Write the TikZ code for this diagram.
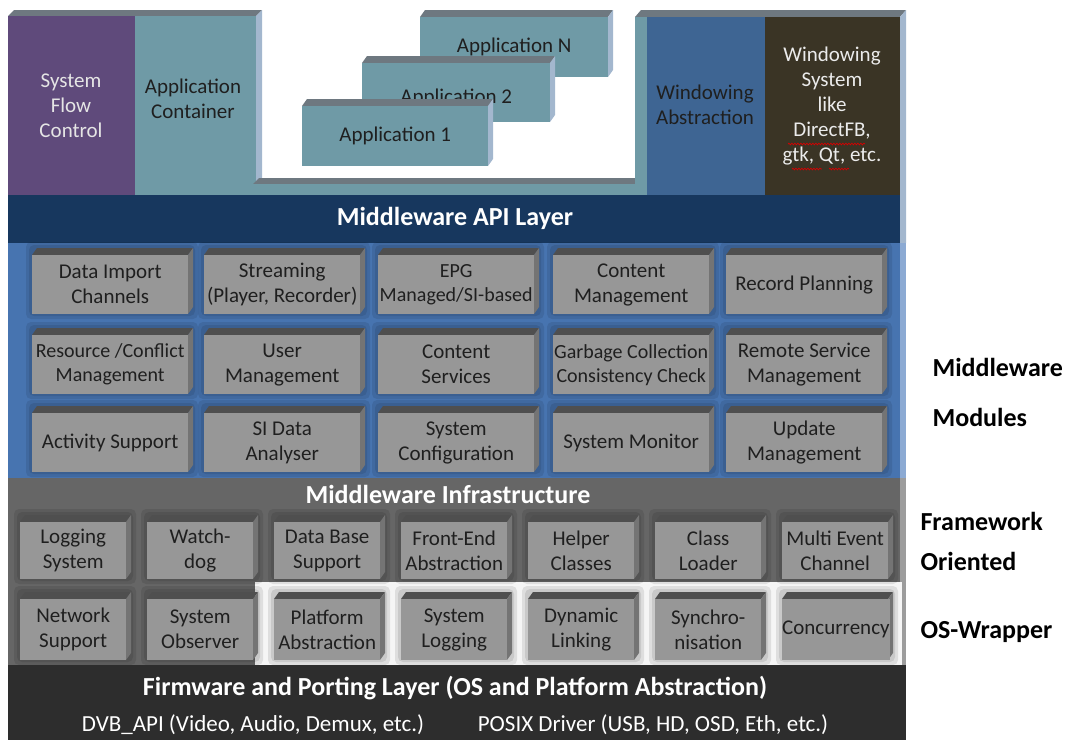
\documentclass[tikz,border=0pt]{standalone}
\usepackage{fontspec}
\setmainfont{Carlito}
\usetikzlibrary{decorations.pathmorphing}

\definecolor{flowpurple}{HTML}{5F4A7B}
\definecolor{appteal}{HTML}{6F9AA6}
\definecolor{winblue}{HTML}{3E6593}
\definecolor{winbrown}{HTML}{3A3425}
\definecolor{apinavy}{HTML}{17375E}
\definecolor{modblue}{HTML}{4774B0}
\definecolor{modside}{HTML}{8CAAD3}
\definecolor{infragray}{HTML}{666666}
\definecolor{infraside}{HTML}{9C9C9C}
\definecolor{fwdark}{HTML}{2D2D2D}
\definecolor{boxface}{HTML}{979797}
\definecolor{boxtop}{HTML}{4F4F4F}
\definecolor{boxside}{HTML}{747474}
\definecolor{slabtop}{HTML}{6E7880}
\definecolor{slabside}{HTML}{A3B7CE}

\tikzset{
  modlabel/.style={align=center, text=black!88, font=\fontsize{21}{25}\selectfont},
  smalllabel/.style={modlabel, font=\fontsize{20}{24}\selectfont},
  toplabel/.style={align=center, font=\fontsize{21}{25}\selectfont},
  layertitle/.style={text=white, font=\bfseries\fontsize{26}{30}\selectfont},
  sidelabel/.style={anchor=west, font=\bfseries\fontsize{26}{30}\selectfont},
  driverlabel/.style={text=white, font=\fontsize{23}{27}\selectfont},
  spell/.style={red!85!black, line width=0.7pt, decorate,
    decoration={snake, segment length=3pt, amplitude=0.8pt}},
  halo/.style={black, opacity=0.09, rounded corners=5pt},
}

% extruded box: style, top colour, side colour, name, x, y, w, h, text
\newcommand{\threed}[9]{%
  \fill[#2] (#5,#6) -- ++(5,-7) -- ++(#7,0) -- ++(-5,7) -- cycle;
  \fill[#3] (#5+#7,#6) -- ++(5,-7) -- ++(0,#8) -- ++(-5,7) -- cycle;
  \node[#1, minimum width=#7, minimum height=#8, inner sep=0pt, anchor=north west] (#4) at (#5,#6) {#9};
}
\newcommand{\modbox}[7][modlabel]{%
  \fill[halo] (#3-6,#4-13) rectangle (#3+#5+10,#4+#6+5);
  \fill[halo] (#3-3,#4-10) rectangle (#3+#5+7,#4+#6+2);
  \threed{#1, fill=boxface}{boxtop}{boxside}{#2}{#3}{#4}{#5}{#6}{#7}}
\newcommand{\appbox}[6]{\threed{toplabel, fill=appteal, text=black!88}{slabtop}{slabside}{#1}{#2}{#3}{#4}{#5}{#6}}

\begin{document}
\begin{tikzpicture}[x=1pt,y=-1pt]
\useasboundingbox (0,0) rectangle (1067,740);

% application layer
\fill[slabtop] (8,16) -- (14,10) -- (262,10) -- (256,16) -- cycle;
\fill[slabside] (256,16) -- (262,10) -- (262,178) -- (256,184) -- cycle;
\fill[flowpurple] (8,16) rectangle (135,195);
\fill[appteal] (135,16) rectangle (256,195);
\fill[slabtop] (253,184) -- (259,178) -- (641,178) -- (635,184) -- cycle;
\fill[appteal] (253,184) rectangle (647,195);
\fill[slabtop] (635,17) -- (641,10) -- (906,10) -- (900,17) -- cycle;
\fill[appteal] (635,17) rectangle (647,195);
\fill[winblue] (647,17) rectangle (765,195);
\fill[winbrown] (765,17) rectangle (900,195);
\fill[slabside] (900,17) -- (906,10) -- (906,243) -- (900,243) -- cycle;

\node[toplabel, text=white!90!black] (flow) at (71,106) {System\\Flow\\Control};
\node[toplabel, text=black!88] (container) at (193,99) {Application\\Container};
\node[toplabel, text=black!88] (winabs) at (705,105) {Windowing\\Abstraction};
\node[toplabel, text=white!92!black] (winsys) at (832,106) {Windowing\\System\\like\\DirectFB,\\gtk, Qt, etc.};
\draw[spell] (788,144) -- (865,144);
\draw[spell] (792,169) -- (822,169);
\draw[spell] (829,169) -- (849,169);

\appbox{appn}{420}{17}{188}{60}{Application N}
\appbox{apptwo}{362}{63}{188}{59}{\raisebox{-5pt}[\height][\depth]{Application 2}}
\appbox{appone}{302}{106}{186}{60}{Application 1}

% middleware API and modules
\fill[apinavy] (8,195) rectangle (900,243);
\node[layertitle] (api) at (455,218) {Middleware API Layer};
\fill[modblue] (8,243) rectangle (900,478);
\fill[modside] (900,243) rectangle (906,478);

\modbox{dataimport}{32}{255}{156}{59}{Data Import\\Channels}
\modbox{streaming}{204}{255}{156}{59}{Streaming\\(Player, Recorder)}
\modbox[smalllabel]{epg}{378}{255}{156}{59}{EPG\\Managed/SI-based}
\modbox{contentmgmt}{553}{255}{156}{59}{Content\\Management}
\modbox{recplan}{726}{255}{156}{59}{Record Planning}

\modbox[smalllabel]{resource}{32}{335}{156}{59}{Resource /Conflict\\Management}
\modbox{usermgmt}{204}{335}{156}{59}{User\\Management}
\modbox{contentsrv}{378}{335}{156}{59}{Content\\Services}
\modbox[smalllabel]{garbage}{553}{335}{156}{59}{Garbage Collection\\Consistency Check}
\modbox{remote}{726}{335}{156}{59}{Remote Service\\Management}

\modbox{activity}{32}{413}{156}{59}{Activity Support}
\modbox{sidata}{204}{413}{156}{59}{SI Data\\Analyser}
\modbox{sysconf}{378}{413}{156}{59}{System\\Configuration}
\modbox{sysmon}{553}{413}{156}{59}{System Monitor}
\modbox{update}{726}{413}{156}{59}{Update\\Management}

% infrastructure
\fill[infragray] (8,478) rectangle (900,665);
\fill[infraside] (900,478) rectangle (906,665);
\fill[white!96!black] (255,582) rectangle (902,665);
\node[layertitle] (infra) at (448,494) {Middleware Infrastructure};

\modbox{logging}{20}{522}{106}{57}{Logging\\System}
\modbox{watchdog}{147}{522}{106}{57}{Watch-\\dog}
\modbox{database}{274}{522}{106}{57}{Data Base\\Support}
\modbox{frontend}{401}{522}{106}{57}{Front-End\\Abstraction}
\modbox{helper}{528}{522}{106}{57}{Helper\\Classes}
\modbox{loader}{655}{522}{106}{57}{Class\\Loader}
\modbox{multievent}{782}{522}{106}{57}{Multi Event\\Channel}

\modbox{network}{20}{599}{106}{61}{Network\\Support}
\modbox{observer}{147}{599}{106}{61}{System\\Observer}
\modbox{platform}{274}{599}{106}{61}{Platform\\Abstraction}
\modbox{syslog}{401}{599}{106}{61}{System\\Logging}
\modbox{dynlink}{528}{599}{106}{61}{Dynamic\\Linking}
\modbox{sync}{655}{599}{106}{61}{Synchro-\\nisation}
\modbox{concurrency}{782}{599}{106}{61}{Concurrency}

% firmware
\fill[fwdark] (8,665) rectangle (906,740);
\node[layertitle] (firmware) at (455,688) {Firmware and Porting Layer (OS and Platform Abstraction)};
\node[driverlabel] (dvbapi) at (253,725) {DVB\_API (Video, Audio, Demux, etc.)};
\node[driverlabel] (posix) at (653,725) {POSIX Driver (USB, HD, OSD, Eth, etc.)};

\node[sidelabel] (mwtop) at (929,367) {Middleware};
\node[sidelabel] (mwbot) at (929,417) {Modules};
\node[sidelabel] (fwtop) at (917,521) {Framework};
\node[sidelabel] (fwbot) at (917,561) {Oriented};
\node[sidelabel] (oswrap) at (917,632) {OS-Wrapper};
\end{tikzpicture}
\end{document}
